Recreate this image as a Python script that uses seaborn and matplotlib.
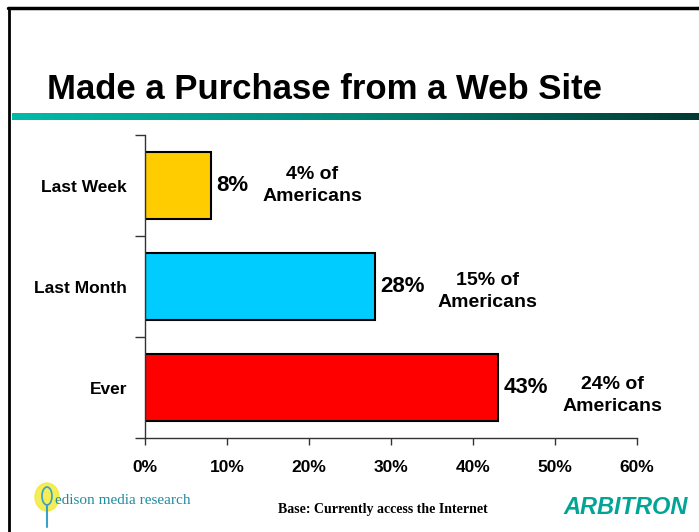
import numpy as np
import pandas as pd
import matplotlib
matplotlib.use("Agg")
import matplotlib.pyplot as plt
import seaborn as sns
from matplotlib.colors import LinearSegmentedColormap
from matplotlib.patches import Ellipse

categories = ["Last Week", "Last Month", "Ever"]
values = [8, 28, 43]
americans = ["4% of\nAmericans", "15% of\nAmericans", "24% of\nAmericans"]
bar_colors = ["#FFCC00", "#00CCFF", "#FF0000"]
xticks = [0, 10, 20, 30, 40, 50, 60]
xtick_labels = ["0%", "10%", "20%", "30%", "40%", "50%", "60%"]

# layout of the "of Americans" notes (data coords)
note_x = [20.4, 41.8, 57.0]
note_dy = [0.0, 0.05, 0.08]

sns.set_theme(style="white")
plt.rcParams["font.family"] = ["Liberation Sans", "DejaVu Sans"]
plt.rcParams["text.color"] = "black"
plt.rcParams["xtick.color"] = "black"
plt.rcParams["ytick.color"] = "black"

W, H = 699, 532
fig = plt.figure(figsize=(W / 100, H / 100), dpi=100)
ax = fig.add_axes([145 / W, 1 - 438 / H, (637 - 145) / W, (438 - 135) / H])

df = pd.DataFrame({"cat": categories, "val": values})
sns.barplot(data=df, y="cat", x="val", hue="cat", palette=bar_colors,
            saturation=1, orient="h", width=0.66, edgecolor="black",
            linewidth=1.5, legend=False, ax=ax)

ax.set_xlim(0, 60)
ax.set_ylim(2.5, -0.5)
ax.set_xticks(xticks)
ax.set_xticklabels(xtick_labels, fontsize=12.5, fontweight="bold")
ax.set_yticks(range(len(categories)))
ax.set_yticklabels(categories, fontsize=12.5, fontweight="bold")
ax.set_yticks([-0.5, 0.5, 1.5, 2.5], minor=True)
ax.tick_params(axis="y", which="major", length=0, pad=13)
ax.tick_params(axis="y", which="minor", length=7, width=1, color="#333333", left=True)
ax.tick_params(axis="x", which="major", length=5, width=1, color="#333333",
               bottom=True, pad=11)
ax.set_xlabel("")
ax.set_ylabel("")
for s in ["top", "right"]:
    ax.spines[s].set_visible(False)
for s in ["left", "bottom"]:
    ax.spines[s].set_color("#333333")
    ax.spines[s].set_linewidth(1)

for i, v in enumerate(values):
    ax.text(v + 0.7, i, f"{v}%", va="center", ha="left",
            fontsize=16, fontweight="bold")
    ax.text(note_x[i], i + note_dy[i], americans[i], va="center", ha="center",
            fontsize=14, fontweight="bold", linespacing=1.4)

# Frame lines
fig.add_artist(plt.Line2D([8 / W, 1], [1 - 8 / H, 1 - 8 / H], color="black", lw=2.5))
fig.add_artist(plt.Line2D([9 / W, 9 / W], [0, 1 - 8 / H], color="black", lw=2))

# Title
fig.text(47 / W, 1 - 89 / H, "Made a Purchase from a Web Site", fontsize=25,
         fontweight="bold", va="center", ha="left")

# Gradient rule
gax = fig.add_axes([12 / W, 1 - 120 / H, (W - 12) / W, 7 / H])
cmap = LinearSegmentedColormap.from_list("g", ["#00BBA8", "#008878", "#003A33"])
gax.imshow(np.linspace(0, 1, 256)[None, :], aspect="auto", cmap=cmap)
gax.set_axis_off()

# Footer
fig.text(278 / W, 1 - 510 / H, "Base: Currently access the Internet",
         fontsize=10, fontweight="bold", family="Liberation Serif",
         va="center", ha="left")
fig.add_artist(Ellipse((47 / W, 1 - 497 / H), 24 / W, 28 / H,
                       color="#F2EA3A", alpha=0.85, zorder=0))
fig.add_artist(Ellipse((47 / W, 1 - 496 / H), 10 / W, 18 / H,
                       fill=False, ec="#3AA0C8", lw=1.2))
fig.add_artist(plt.Line2D([47 / W, 47 / W], [1 - 505 / H, 1 - 527 / H],
                          color="#3AA0C8", lw=1.5))
fig.text(55 / W, 1 - 500 / H, "edison media research", fontsize=11,
         family="Liberation Serif", color="#1E8C9E", va="center", ha="left")
fig.text(563 / W, 1 - 507 / H, "ARBITRON", fontsize=17, fontweight="bold",
         style="italic", color="#00A596", va="center", ha="left")

fig.savefig("out.png", dpi=100)
